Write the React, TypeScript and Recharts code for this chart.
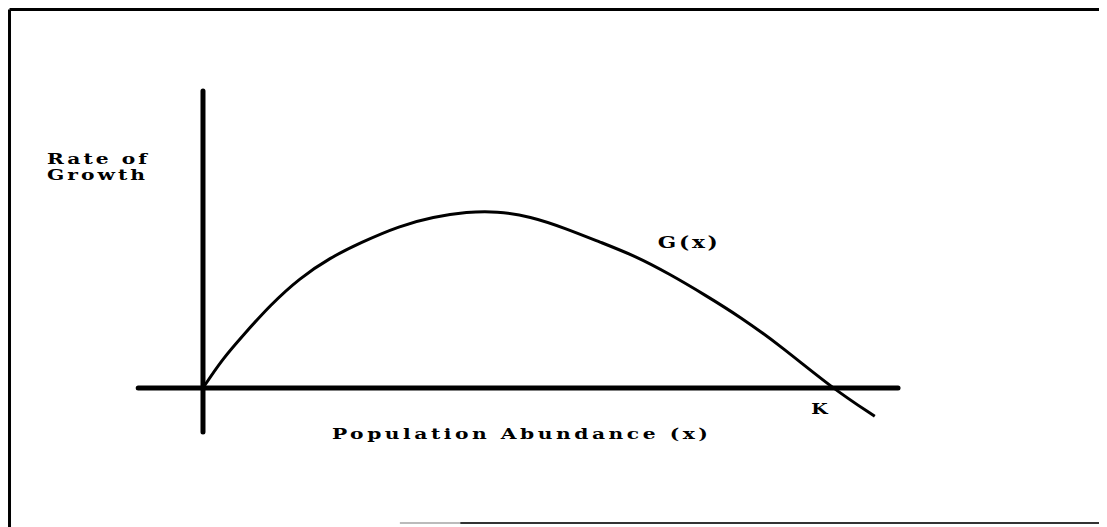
import React from "react";
import { LineChart, Line, XAxis, YAxis, ReferenceLine, ReferenceDot } from "recharts";

// Population abundance (x), K = 100
const abundance = [0, 3.0, 6.4, 10.7, 15.4, 20.2, 25.0, 31.3, 36.6, 42.0, 46.7, 52.0, 57.6, 63.1, 68.7, 74.2, 79.8, 85.4, 91.7, 100, 106.8];
// Rate of growth G(x)
const growth = [0, 4.5, 8.4, 13.2, 17.5, 20.7, 23.1, 25.8, 27.2, 28.0, 28.1, 27.3, 25.4, 23.2, 21.0, 18.1, 14.8, 11.3, 6.8, 0, -4.5];

const xAxisExtent = [-10.3, 110.5];
const yAxisExtent = [-7.0, 47.2];

const labelTexts = ["Rate of", "Growth", "G(x)", "K", "Population Abundance (x)"];
const labelAnchors = [
  { x: -24.8, y: 35.6, len: 100, size: 15 },
  { x: -24.8, y: 33.1, len: 98, size: 15 },
  { x: 72.3, y: 22.3, len: 60, size: 16 },
  { x: 96.7, y: -4.1, len: 17, size: 14 },
  { x: 20.5, y: -8.1, len: 376, size: 15 },
];

const data = abundance.map((x, i) => ({ x, g: growth[i] }));

const FONT = "'DejaVu Serif', 'Liberation Serif', serif";
const WIDEN = 1.35;

function makeLabel(text: string, len: number, size: number) {
  return {
    content: (props: any) => {
      const vb = props.viewBox || {};
      return (
        <text
          transform={`translate(${vb.x},${vb.y}) scale(${WIDEN},1)`}
          x={0}
          y={0}
          textLength={len / WIDEN}
          lengthAdjust="spacing"
          fontFamily={FONT}
          fontWeight="bold"
          fontSize={size}
          fill="#000"
        >
          {text}
        </text>
      );
    },
  };
}

export default function App() {
  return (
    <LineChart width={1099} height={519} data={data} margin={{ top: 0, right: 0, bottom: 0, left: 0 }}>
      <XAxis type="number" dataKey="x" domain={[-31.0, 143.72]} allowDataOverflow hide height={0} />
      <YAxis type="number" domain={[-22.1, 60.41]} allowDataOverflow hide width={0} />
      {/* frame */}
      <ReferenceLine segment={[{ x: -30.76, y: 60.17 }, { x: 143.72, y: 60.17 }]} stroke="#000" strokeWidth={3} />
      <ReferenceLine segment={[{ x: -30.76, y: 60.17 }, { x: -30.76, y: -22.1 }]} stroke="#000" strokeWidth={3} />
      <ReferenceLine segment={[{ x: 31.3, y: -21.46 }, { x: 40.9, y: -21.46 }]} stroke="#bbb" strokeWidth={2} />
      <ReferenceLine segment={[{ x: 40.9, y: -21.46 }, { x: 143.72, y: -21.46 }]} stroke="#333" strokeWidth={2} />
      {/* axes */}
      <ReferenceLine
        segment={[{ x: xAxisExtent[0], y: 0 }, { x: xAxisExtent[1], y: 0 }]}
        stroke="#000"
        strokeWidth={5}
        strokeLinecap="round"
      />
      <ReferenceLine
        segment={[{ x: 0, y: yAxisExtent[0] }, { x: 0, y: yAxisExtent[1] }]}
        stroke="#000"
        strokeWidth={5}
        strokeLinecap="round"
      />
      <Line
        type="basis"
        dataKey="g"
        stroke="#000"
        strokeWidth={3}
        dot={false}
        isAnimationActive={false}
      />
      {labelTexts.map((t, i) => (
        <ReferenceDot
          key={t}
          x={labelAnchors[i].x}
          y={labelAnchors[i].y}
          r={0}
          fill="none"
          stroke="none"
          label={makeLabel(t, labelAnchors[i].len, labelAnchors[i].size)}
        />
      ))}
    </LineChart>
  );
}
